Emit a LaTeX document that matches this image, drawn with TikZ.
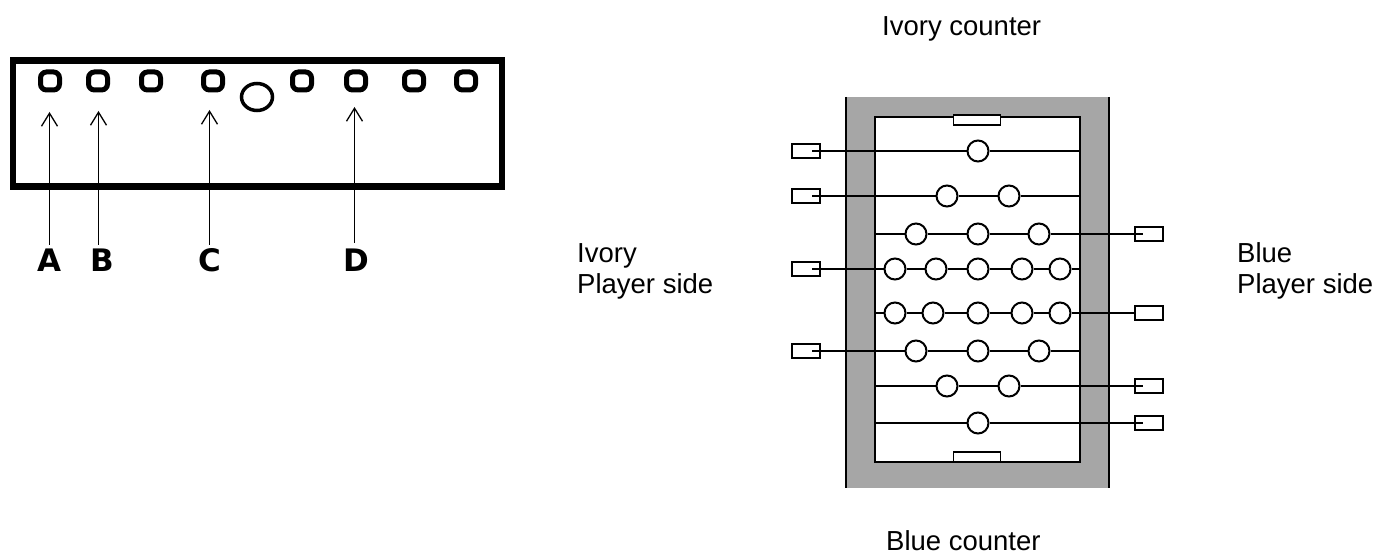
\documentclass[tikz,border=0pt]{standalone}
\usepackage{fontspec}
\setmainfont{Liberation Sans}
\newfontfamily\labelfont{DejaVu Sans}
\usetikzlibrary{arrows.meta,shapes.geometric}
\definecolor{tablegray}{HTML}{A6A6A6}
\tikzset{
  x=1pt,y=-1pt,
  hole/.style={draw,line width=5pt,fill=white,shape=rectangle,rounded corners=6pt,inner sep=0pt,minimum width=19pt,minimum height=18pt},
  bigball/.style={draw,line width=3.5pt,fill=white,shape=ellipse,inner sep=0pt,minimum width=31pt,minimum height=27pt},
  ball/.style={draw,line width=2pt,fill=white,shape=circle,inner sep=0pt,minimum size=21pt},
  handle/.style={draw,line width=2pt,fill=white,inner sep=0pt,minimum width=28pt,minimum height=14pt},
  goal/.style={draw,line width=1.6pt,fill=white,inner sep=0pt,minimum width=47pt,minimum height=10pt},
  rod/.style={line width=2pt},
  pointer/.style={line width=1.6pt,-{Straight Barb[length=13pt,width=16pt,line width=1.3pt]}},
  letter/.style={font=\labelfont\bfseries\fontsize{31}{31}\selectfont,inner sep=0pt,anchor=base},
  caption/.style={font=\fontsize{27.5}{31}\selectfont,inner sep=0pt,align=left,anchor=base west},
  twoline/.style={font=\fontsize{27.5}{31}\selectfont,inner sep=0pt,align=left,anchor=west},
}
\begin{document}
\begin{tikzpicture}
\useasboundingbox (0,0) rectangle (1377,556);
% left panel
\draw[line width=6.5pt] (13,60.5) rectangle (502,186.5);
\foreach \n/\x in {1/50,2/98,3/151,4/213,5/302,6/356,7/414,8/466}
  \node[hole] (h\n) at (\x,81) {};
\node[bigball] (big) at (257,97) {};
\node[letter] (A) at (49,272) {A};
\node[letter] (B) at (102,272) {B};
\node[letter] (C) at (210,272) {C};
\node[letter] (D) at (356,272) {D};
\coordinate (ta) at (49.5,112);
\coordinate (tb) at (98.5,111);
\coordinate (tc) at (209.5,110);
\coordinate (td) at (354.5,107);
\coordinate (sa) at (49.5,245);
\coordinate (sb) at (98.5,245);
\coordinate (sc) at (209.5,245);
\coordinate (sd) at (354.5,243);
\draw[pointer] (sa) -- (ta);
\draw[pointer] (sb) -- (tb);
\draw[pointer] (sc) -- (tc);
\draw[pointer] (sd) -- (td);
% table
\fill[tablegray] (846,97) rectangle (1109,488);
\draw[line width=2pt] (846,97) -- (846,488) (1109,97) -- (1109,488);
\draw[line width=2pt,fill=white] (875,117) rectangle (1080,462);
\node[goal] (gt) at (977,120) {};
\node[goal] (gb) at (977,457) {};
% handles
\foreach \n/\y in {1/151,2/196,4/269,6/351}
  \node[handle] (H\n) at (805.5,\y) {};
\foreach \n/\y in {3/234,5/313,7/386,8/423}
  \node[handle] (H\n) at (1149,\y) {};
% balls
\foreach \n/\x/\y in {a/978/151,
  ba/947/196,bb/1009/196,
  ca/916/234,cb/978/234,cc/1039/234,
  da/895/269,db/936/269,dc/978/269,dd/1022/269,de/1060/269,
  ea/895/313,eb/933/313,ec/978/313,ed/1022/313,ee/1060/313,
  fa/916/351,fb/978/351,fc/1039/351,
  ga/947/386,gb2/1009/386,
  ia/978/423}
  \node[ball] (\n) at (\x,\y) {};
% rod ends
\foreach \n/\y in {1/151,2/196,4/269,6/351} {
  \coordinate (in\n) at (812,\y);
  \coordinate (end\n) at (1080,\y);
}
\foreach \n/\y in {3/234,7/386,8/423} {
  \coordinate (in\n) at (1143,\y);
  \coordinate (end\n) at (875,\y);
}
\coordinate (end5) at (875,313);
\draw[rod] (in1) -- (a) -- (end1);
\draw[rod] (in2) -- (ba) -- (bb) -- (end2);
\draw[rod] (end3) -- (ca) -- (cb) -- (cc) -- (in3);
\draw[rod] (in4) -- (da) -- (db) -- (dc) -- (dd) -- (de) -- (end4);
\draw[rod] (end5) -- (ea) -- (eb) -- (ec) -- (ed) -- (ee) -- (H5);
\draw[rod] (in6) -- (fa) -- (fb) -- (fc) -- (end6);
\draw[rod] (end7) -- (ga) -- (gb2) -- (in7);
\draw[rod] (end8) -- (ia) -- (in8);
% captions
\node[caption] (t1) at (882,36) {Ivory counter};
\node[caption] (t2) at (886,550) {Blue counter};
\node[twoline] (t3) at (577,271) {Ivory\\Player side};
\node[twoline] (t4) at (1237,271) {Blue\\Player side};
\end{tikzpicture}
\end{document}
